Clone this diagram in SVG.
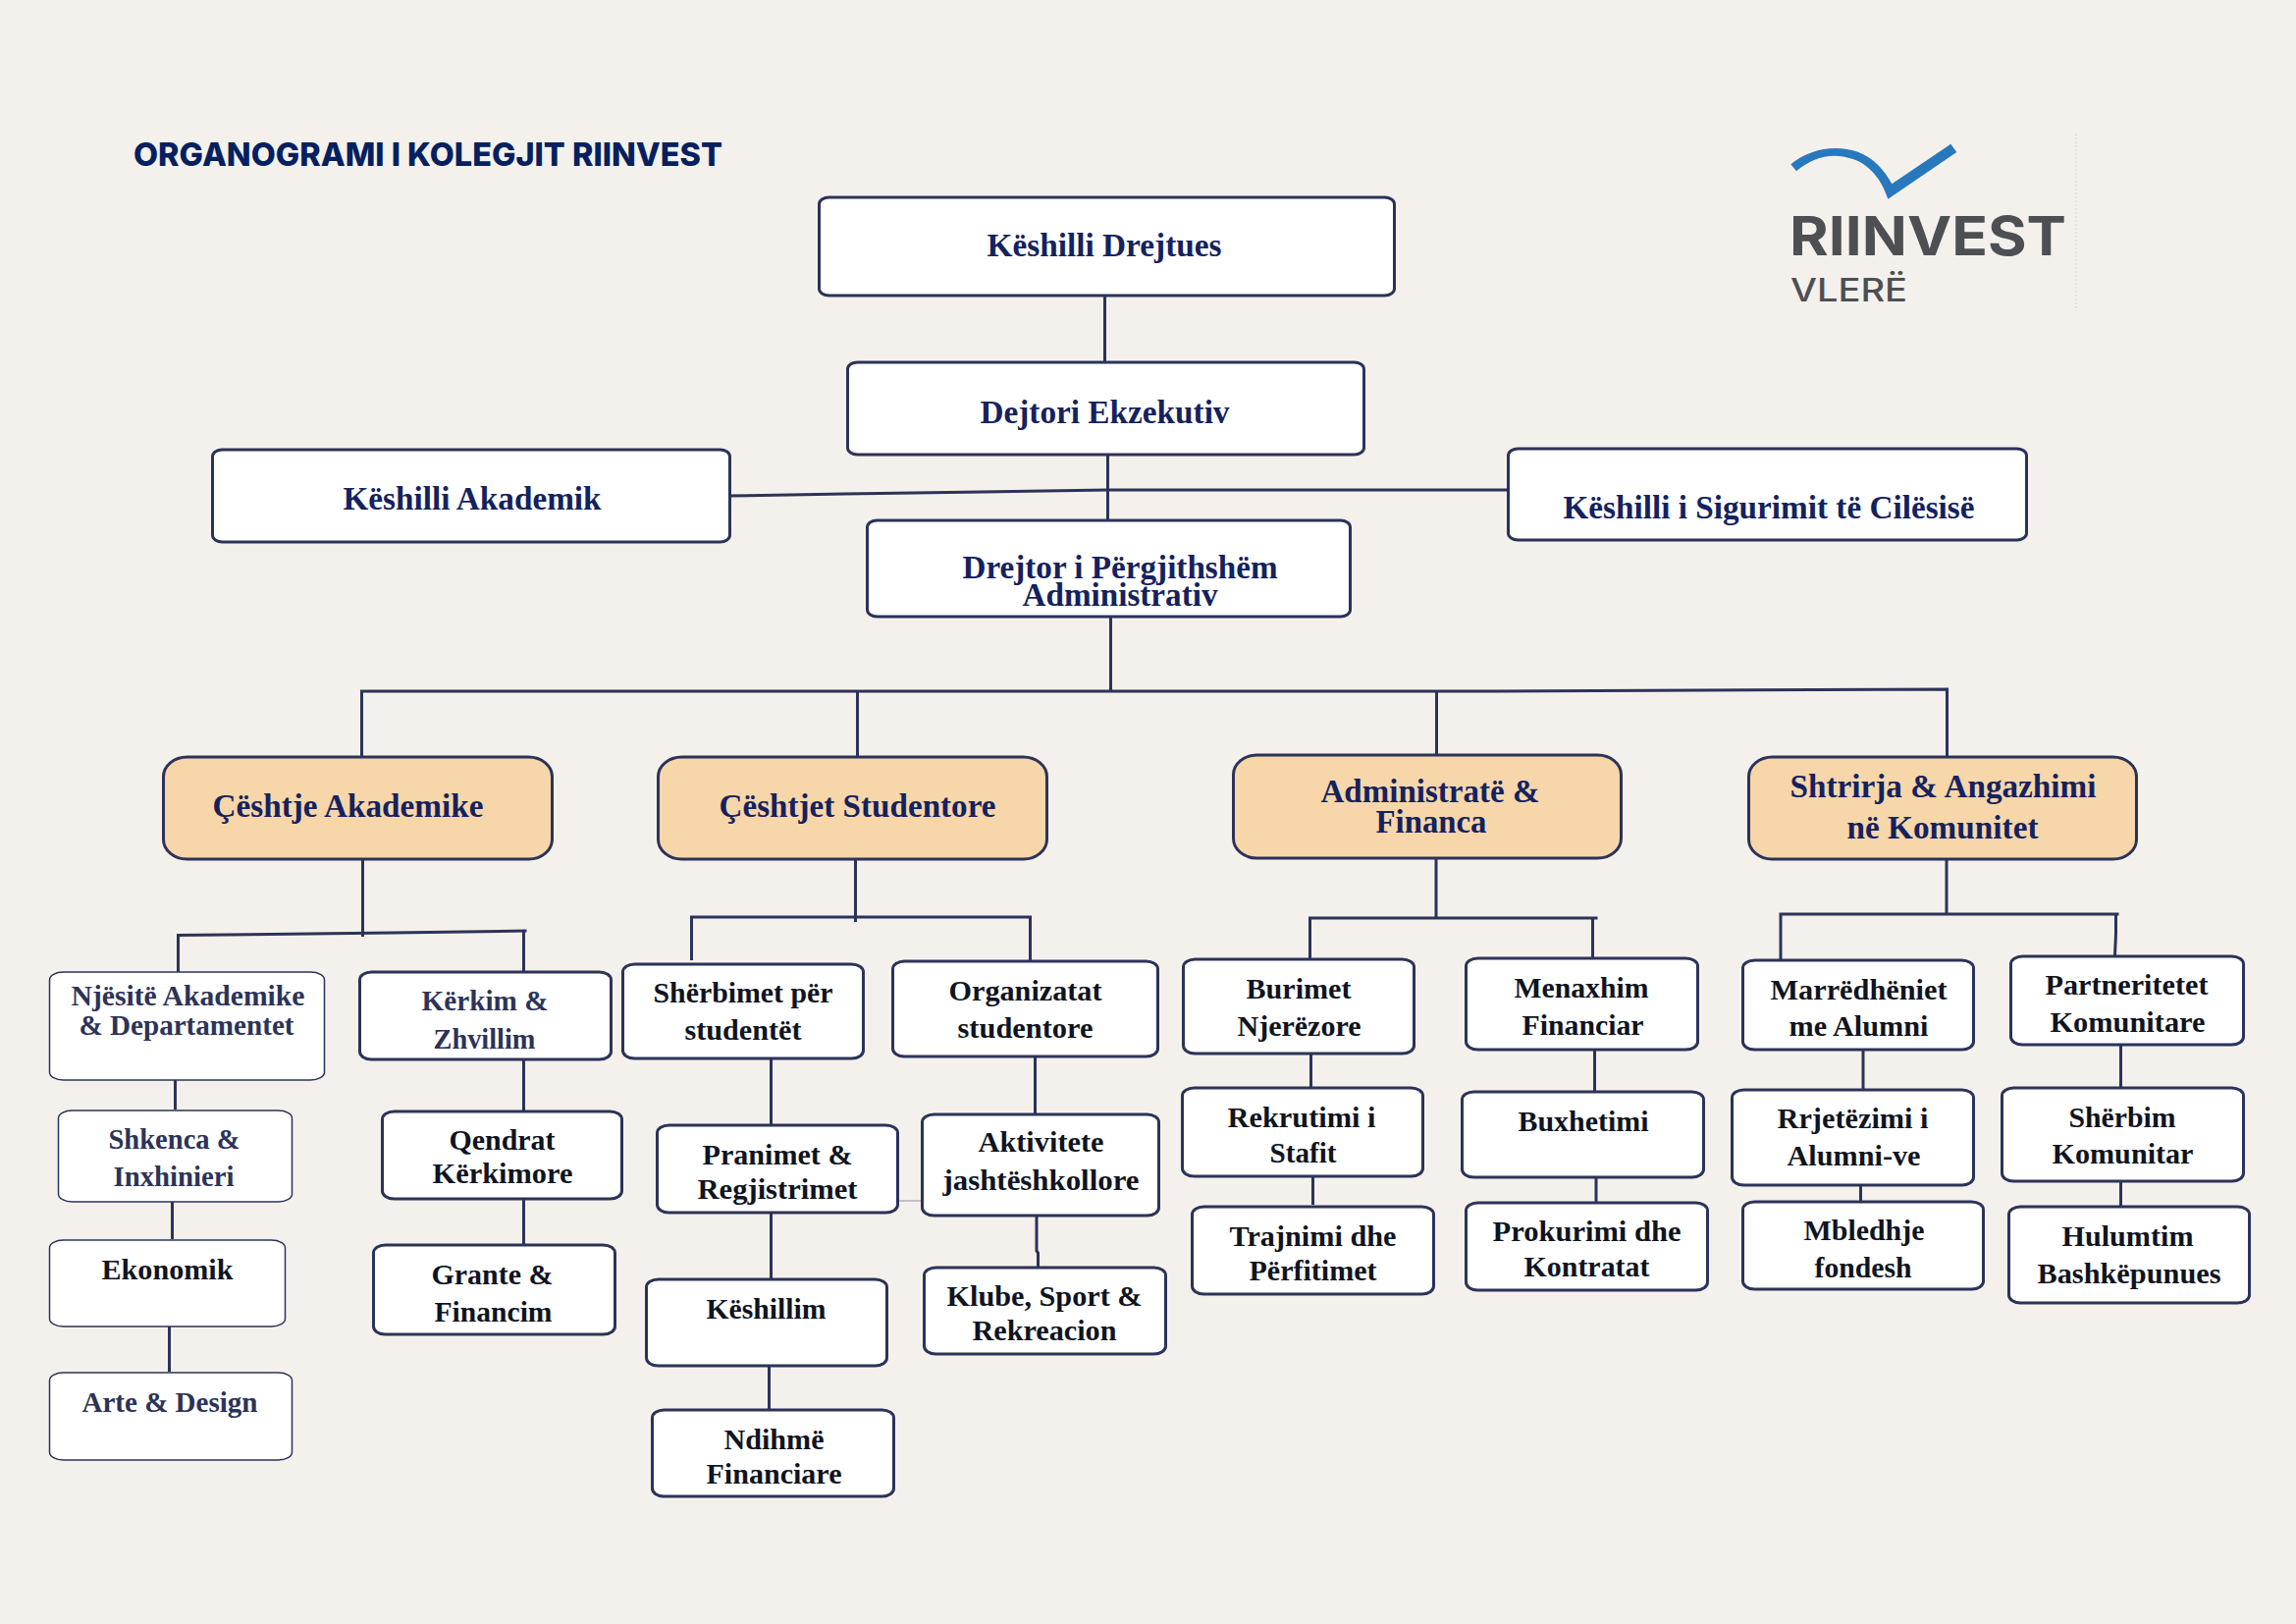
<svg xmlns="http://www.w3.org/2000/svg" width="2339" height="1654" viewBox="0 0 2339 1654">
<style>
.b{fill:#fff;stroke:#2C3359;stroke-width:3}
.t{fill:#fff;stroke:#2C3359;stroke-width:1.5}
.o{fill:#F7D6AA;stroke:#2C3359;stroke-width:3}
.c{fill:none;stroke:#2C3359;stroke-width:3}
text{font-family:"Liberation Serif","Times New Roman",serif;font-weight:700;font-size:30px;fill:#10141F}
.h{font-size:33px;fill:#14225E}
.s{fill:#2C3359}
.title{font-family:Inter,"Liberation Sans",sans-serif;font-size:33px;font-weight:800;fill:#04205F}
.logo{font-family:Inter,"Liberation Sans",sans-serif;fill:#4D4F53}
</style>
<rect width="2339" height="1654" fill="#F4F1EC"/>
<text id="title" class="title" x="136" y="169" textLength="600" lengthAdjust="spacingAndGlyphs">ORGANOGRAMI I KOLEGJIT RIINVEST</text>
<g id="logo">
<path fill="#2878BE" transform="translate(1700 110) scale(.3333)" d="M373,172C430,125 510,110 580,135C625,152 660,190 682,232L862,110L880,135L670,278C650,215 610,170 560,155C500,135 440,150 390,193Z"/>
<text class="logo" x="1823" y="260" style="font-size:55px" textLength="282" lengthAdjust="spacingAndGlyphs">RIINVEST</text>
<text class="logo" x="1824" y="307" style="font-size:32px;font-weight:500" textLength="119" lengthAdjust="spacingAndGlyphs">VLERË</text>
<path d="M2115,136V317" stroke="#E6E3DE" stroke-width="2" stroke-dasharray="2 2" fill="none"/>
</g>
<g id="chart" transform="translate(.5 1)">
<g id="connectors" class="c">
<path d="M1125,300V368"/>
<path d="M1128,462V529"/>
<path d="M743,504L860,502L1128,498H1536"/>
<path d="M1131,627V703"/>
<path d="M368,770V703H1500L1983,701V772"/>
<path d="M873,770V703"/>
<path d="M1463,768V703"/>
<path d="M369,874V953"/>
<path d="M181,989V951.5L400,949L536,947"/>
<path d="M533,947V989"/>
<path d="M178,1099V1129"/>
<path d="M175,1223V1261"/>
<path d="M172,1350V1396"/>
<path d="M533,1078V1131"/>
<path d="M533,1220V1267"/>
<path d="M871,874V938"/>
<path d="M704,977V933H1049V977"/>
<path d="M785,1077V1145"/>
<path d="M785,1234V1302"/>
<path d="M783,1390V1435"/>
<path d="M1054,1075V1134"/>
<path d="M1055.5,1237V1273L1057,1275V1290"/>
<path d="M914,1222H939" style="stroke:#8C91A6;stroke-width:1"/>
<path d="M1462.5,873V934"/>
<path d="M1334,976V934H1627"/>
<path d="M1622,934V975"/>
<path d="M1335,1072V1107"/>
<path d="M1337,1197V1226"/>
<path d="M1624,1068V1111"/>
<path d="M1625.5,1198V1224"/>
<path d="M1982.5,874V930"/>
<path d="M1813.5,976V930H2158"/>
<path d="M2155,930V950L2154,972"/>
<path d="M1897.5,1068V1109"/>
<path d="M1895,1206V1223"/>
<path d="M2160,1063V1107"/>
<path d="M2160,1202V1228"/>
</g>
<g id="keshilli-drejtues"><rect class="b" x="834" y="200" width="586" height="100" rx="10" ry="7"/><text class="h" x="1005" y="260" textLength="239" lengthAdjust="spacingAndGlyphs">Këshilli Drejtues</text></g>
<g id="dejtori"><rect class="b" x="863" y="368" width="526" height="94" rx="10" ry="7"/><text class="h" x="998" y="430" textLength="254" lengthAdjust="spacingAndGlyphs">Dejtori Ekzekutiv</text></g>
<g id="keshilli-akademik"><rect class="b" x="216" y="457" width="527" height="94" rx="10" ry="7"/><text class="h" x="349" y="518" textLength="263" lengthAdjust="spacingAndGlyphs">Këshilli Akademik</text></g>
<g id="keshilli-sigurimit"><rect class="b" x="1536" y="456" width="528" height="93" rx="10" ry="7"/><text class="h" x="1592" y="527" textLength="419" lengthAdjust="spacingAndGlyphs">Këshilli i Sigurimit të Cilësisë</text></g>
<g id="drejtor"><rect class="b" x="883" y="529" width="492" height="98" rx="10" ry="7"/><text class="h" x="980" y="588" textLength="321" lengthAdjust="spacingAndGlyphs">Drejtor i Përgjithshëm</text><text class="h" x="1041" y="616" textLength="199" lengthAdjust="spacingAndGlyphs">Administrativ</text></g>
<g id="ceshtje-akademike"><rect class="o" x="166" y="770" width="396" height="104" rx="24" ry="20"/><text class="h" x="216" y="831" textLength="276" lengthAdjust="spacingAndGlyphs">Çështje Akademike</text></g>
<g id="ceshtjet-studentore"><rect class="o" x="670" y="770" width="396" height="104" rx="24" ry="20"/><text class="h" x="732" y="831" textLength="282" lengthAdjust="spacingAndGlyphs">Çështjet Studentore</text></g>
<g id="administrate-financa"><rect class="o" x="1256" y="768" width="395" height="105" rx="24" ry="20"/><text class="h" x="1345" y="816" textLength="223" lengthAdjust="spacingAndGlyphs">Administratë &amp;</text><text class="h" x="1401" y="847" textLength="113" lengthAdjust="spacingAndGlyphs">Financa</text></g>
<g id="shtrirja"><rect class="o" x="1781" y="770" width="395" height="104" rx="24" ry="20"/><text class="h" x="1823" y="811" textLength="312" lengthAdjust="spacingAndGlyphs">Shtrirja &amp; Angazhimi</text><text class="h" x="1881" y="853" textLength="195" lengthAdjust="spacingAndGlyphs">në Komunitet</text></g>
<g id="njesite"><rect class="t" x="50" y="989" width="280" height="110" rx="14" ry="8"/><text class="s" x="72" y="1023" textLength="238" lengthAdjust="spacingAndGlyphs">Njësitë Akademike</text><text class="s" x="80" y="1053" textLength="219" lengthAdjust="spacingAndGlyphs">&amp; Departamentet</text></g>
<g id="shkenca"><rect class="t" x="59" y="1130" width="238" height="93" rx="14" ry="8"/><text class="s" x="110" y="1169" textLength="134" lengthAdjust="spacingAndGlyphs">Shkenca &amp;</text><text class="s" x="115" y="1207" textLength="123" lengthAdjust="spacingAndGlyphs">Inxhinieri</text></g>
<g id="ekonomik"><rect class="t" x="50" y="1262" width="240" height="88" rx="14" ry="8"/><text x="103" y="1302" textLength="134" lengthAdjust="spacingAndGlyphs">Ekonomik</text></g>
<g id="arte-design"><rect class="t" x="50" y="1397" width="247" height="89" rx="14" ry="8"/><text class="s" x="83" y="1437" textLength="179" lengthAdjust="spacingAndGlyphs">Arte &amp; Design</text></g>
<g id="kerkim"><rect class="b" x="366" y="989" width="256" height="89" rx="12" ry="8"/><text class="s" x="429" y="1028" textLength="129" lengthAdjust="spacingAndGlyphs">Kërkim &amp;</text><text class="s" x="441" y="1067" textLength="104" lengthAdjust="spacingAndGlyphs">Zhvillim</text></g>
<g id="qendrat"><rect class="b" x="389" y="1131" width="244" height="89" rx="12" ry="8"/><text x="457" y="1170" textLength="108" lengthAdjust="spacingAndGlyphs">Qendrat</text><text x="440" y="1204" textLength="143" lengthAdjust="spacingAndGlyphs">Kërkimore</text></g>
<g id="grante"><rect class="b" x="380" y="1267" width="246" height="91" rx="12" ry="8"/><text x="439" y="1307" textLength="124" lengthAdjust="spacingAndGlyphs">Grante &amp;</text><text x="442" y="1345" textLength="120" lengthAdjust="spacingAndGlyphs">Financim</text></g>
<g id="sherbimet"><rect class="b" x="634" y="981" width="245" height="96" rx="12" ry="8"/><text x="665" y="1020" textLength="183" lengthAdjust="spacingAndGlyphs">Shërbimet për</text><text x="697" y="1058" textLength="119" lengthAdjust="spacingAndGlyphs">studentët</text></g>
<g id="pranimet"><rect class="b" x="669" y="1145" width="245" height="89" rx="12" ry="8"/><text x="715" y="1185" textLength="153" lengthAdjust="spacingAndGlyphs">Pranimet &amp;</text><text x="710" y="1220" textLength="163" lengthAdjust="spacingAndGlyphs">Regjistrimet</text></g>
<g id="keshillim"><rect class="b" x="658" y="1302" width="245" height="88" rx="12" ry="8"/><text x="719" y="1342" textLength="122" lengthAdjust="spacingAndGlyphs">Këshillim</text></g>
<g id="ndihme"><rect class="b" x="664" y="1435" width="246" height="88" rx="12" ry="8"/><text x="737" y="1475" textLength="102" lengthAdjust="spacingAndGlyphs">Ndihmë</text><text x="719" y="1510" textLength="138" lengthAdjust="spacingAndGlyphs">Financiare</text></g>
<g id="organizatat"><rect class="b" x="909" y="978" width="270" height="97" rx="12" ry="8"/><text x="966" y="1018" textLength="156" lengthAdjust="spacingAndGlyphs">Organizatat</text><text x="975" y="1056" textLength="138" lengthAdjust="spacingAndGlyphs">studentore</text></g>
<g id="aktivitete"><rect class="b" x="939" y="1134" width="241" height="103" rx="12" ry="8"/><text x="996" y="1172" textLength="128" lengthAdjust="spacingAndGlyphs">Aktivitete</text><text x="960" y="1211" textLength="200" lengthAdjust="spacingAndGlyphs">jashtëshkollore</text></g>
<g id="klube"><rect class="b" x="941" y="1290" width="246" height="88" rx="12" ry="8"/><text x="964" y="1329" textLength="199" lengthAdjust="spacingAndGlyphs">Klube, Sport &amp;</text><text x="990" y="1364" textLength="147" lengthAdjust="spacingAndGlyphs">Rekreacion</text></g>
<g id="burimet"><rect class="b" x="1205" y="976" width="235" height="96" rx="12" ry="8"/><text x="1269" y="1016" textLength="107" lengthAdjust="spacingAndGlyphs">Burimet</text><text x="1260" y="1054" textLength="126" lengthAdjust="spacingAndGlyphs">Njerëzore</text></g>
<g id="rekrutimi"><rect class="b" x="1204" y="1107" width="245" height="90" rx="12" ry="8"/><text x="1250" y="1147" textLength="151" lengthAdjust="spacingAndGlyphs">Rekrutimi i</text><text x="1293" y="1183" textLength="68" lengthAdjust="spacingAndGlyphs">Stafit</text></g>
<g id="trajnimi"><rect class="b" x="1214" y="1228" width="246" height="89" rx="12" ry="8"/><text x="1252" y="1268" textLength="170" lengthAdjust="spacingAndGlyphs">Trajnimi dhe</text><text x="1272" y="1303" textLength="130" lengthAdjust="spacingAndGlyphs">Përfitimet</text></g>
<g id="menaxhim"><rect class="b" x="1493" y="975" width="236" height="93" rx="12" ry="8"/><text x="1542" y="1015" textLength="137" lengthAdjust="spacingAndGlyphs">Menaxhim</text><text x="1550" y="1053" textLength="124" lengthAdjust="spacingAndGlyphs">Financiar</text></g>
<g id="buxhetimi"><rect class="b" x="1489" y="1111" width="246" height="87" rx="12" ry="8"/><text x="1546" y="1151" textLength="133" lengthAdjust="spacingAndGlyphs">Buxhetimi</text></g>
<g id="prokurimi"><rect class="b" x="1493" y="1224" width="246" height="89" rx="12" ry="8"/><text x="1520" y="1263" textLength="192" lengthAdjust="spacingAndGlyphs">Prokurimi dhe</text><text x="1552" y="1299" textLength="128" lengthAdjust="spacingAndGlyphs">Kontratat</text></g>
<g id="marredheniet"><rect class="b" x="1775" y="977" width="235" height="91" rx="12" ry="8"/><text x="1803" y="1017" textLength="180" lengthAdjust="spacingAndGlyphs">Marrëdhëniet</text><text x="1822" y="1054" textLength="142" lengthAdjust="spacingAndGlyphs">me Alumni</text></g>
<g id="rrjetezimi"><rect class="b" x="1764" y="1109" width="246" height="97" rx="12" ry="8"/><text x="1810" y="1148" textLength="154" lengthAdjust="spacingAndGlyphs">Rrjetëzimi i</text><text x="1820" y="1186" textLength="136" lengthAdjust="spacingAndGlyphs">Alumni-ve</text></g>
<g id="mbledhje"><rect class="b" x="1775" y="1223" width="245" height="89" rx="12" ry="8"/><text x="1837" y="1262" textLength="123" lengthAdjust="spacingAndGlyphs">Mbledhje</text><text x="1848" y="1300" textLength="99" lengthAdjust="spacingAndGlyphs">fondesh</text></g>
<g id="partneritetet"><rect class="b" x="2048" y="973" width="237" height="90" rx="12" ry="8"/><text x="2083" y="1012" textLength="166" lengthAdjust="spacingAndGlyphs">Partneritetet</text><text x="2088" y="1050" textLength="158" lengthAdjust="spacingAndGlyphs">Komunitare</text></g>
<g id="sherbim"><rect class="b" x="2039" y="1107" width="246" height="95" rx="12" ry="8"/><text x="2107" y="1147" textLength="109" lengthAdjust="spacingAndGlyphs">Shërbim</text><text x="2090" y="1184" textLength="144" lengthAdjust="spacingAndGlyphs">Komunitar</text></g>
<g id="hulumtim"><rect class="b" x="2046" y="1228" width="245" height="98" rx="12" ry="8"/><text x="2100" y="1268" textLength="134" lengthAdjust="spacingAndGlyphs">Hulumtim</text><text x="2075" y="1306" textLength="187" lengthAdjust="spacingAndGlyphs">Bashkëpunues</text></g>
</g>
</svg>
